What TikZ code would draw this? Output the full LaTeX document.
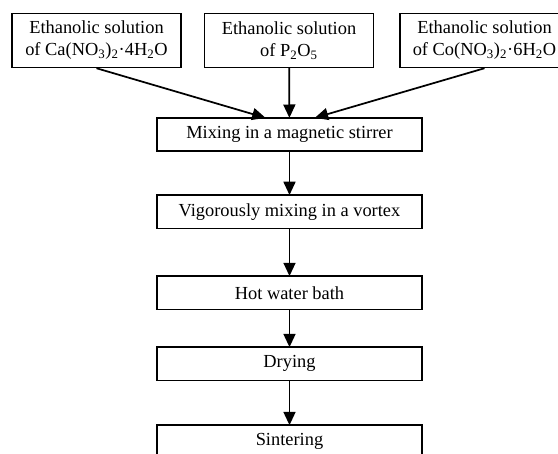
\documentclass[tikz,border=0pt]{standalone}
\usepackage{fontspec}
\setmainfont{Liberation Serif}
\usetikzlibrary{arrows.meta,positioning}

\tikzset{
  solbox/.style={draw,line width=1.1pt,align=center,minimum width=126.5pt,
    minimum height=40.5pt,inner sep=1pt},
  stepbox/.style={draw,line width=1.1pt,minimum width=198.75pt,
    minimum height=25pt,inner sep=1pt,outer sep=0pt},
  flow/.style={-{Triangle[length=10pt,width=9pt]},line width=1.3pt}
}

\begin{document}
\begin{tikzpicture}[x=0.75pt,y=-0.75pt,node distance=32pt,
    font=\fontsize{13.8}{16.5}\selectfont]
    \clip (0,0) rectangle (558,454);
    % starting solutions
    \node[solbox] (ca) at (96.5,40.5) {Ethanolic solution\\of Ca(NO\textsubscript{3})\textsubscript{2}·4H\textsubscript{2}O};
    \node[solbox] (p) at (289,40.5) {Ethanolic solution\\of P\textsubscript{2}O\textsubscript{5}};
    \node[solbox] (co) at (484.5,40.5) {Ethanolic solution\\of Co(NO\textsubscript{3})\textsubscript{2}·6H\textsubscript{2}O};
    % process steps
    \node[stepbox] (mix) at (289.5,134.5) {Mixing in a magnetic stirrer};
    \node[stepbox] (vortex) [below=32.9pt of mix] {Vigorously mixing in a vortex};
    \node[stepbox] (bath) [below=35.8pt of vortex] {Hot water bath};
    \node[stepbox] (dry) [below=28.3pt of bath] {Drying};
    \node[stepbox] (sinter) [below=33.5pt of dry] {Sintering};
    \draw[flow] (ca.south) -- ([xshift=-18pt]mix.north);
    \draw[flow] (p) -- (mix);
    \draw[flow] (co.south) -- ([xshift=19pt]mix.north);
    \draw[flow] (mix) -- (vortex);
    \draw[flow] (vortex) -- (bath);
    \draw[flow] (bath) -- (dry);
    \draw[flow] (dry) -- (sinter);
\end{tikzpicture}
\end{document}
